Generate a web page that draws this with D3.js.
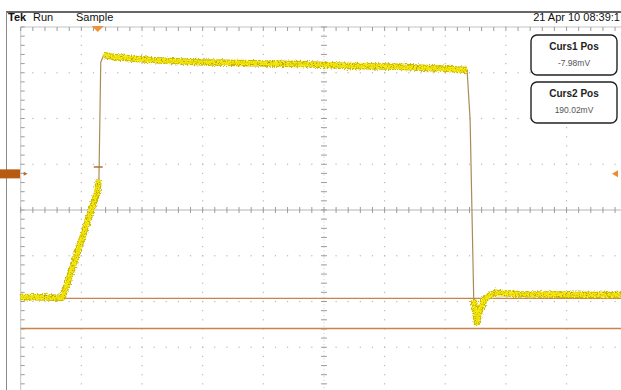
<!DOCTYPE html>
<html>
<head>
<meta charset="utf-8">
<script src="https://cdn.jsdelivr.net/npm/d3@7"></script>
<style>
  html, body { margin: 0; padding: 0; background: #fff; }
  svg { display: block; font-family: "Liberation Sans", Arial, sans-serif; }
</style>
</head>
<body>
<svg id="scope" width="621" height="390"></svg>
<script>
// Screen layout of the scope: 10 horizontal x 8 vertical divisions.
const hDivs = 10;
const vDivs = 8;

// Channel 1 trace, time and level both in screen divisions.
const traceTime = [0, 0.68, 0.71, 1.26, 1.29, 1.32, 1.37, 1.56, 2.13, 2.96, 3.78, 4.61, 5.43, 6.25, 7.08, 7.36,
                   7.41, 7.47, 7.52, 7.57, 7.66, 7.82, 8.23, 9.06, 10];
const traceLevel = [-1.90, -1.92, -1.84, 0.39, 0.66, 3.23, 3.39, 3.34, 3.28, 3.23, 3.21, 3.19, 3.15, 3.13, 3.08, 3.06,
                    1.97, -1.97, -2.45, -2.19, -1.92, -1.81, -1.84, -1.85, -1.86];

// Cursor readouts (mV); channel shown inverted at 300 mV/div.
const cursorNames = ["Curs1 Pos", "Curs2 Pos"];
const cursorValues = [-7.98, 190.02];
const mVPerDiv = 300;

// Markers: ground level, trigger time, trigger level (divisions).
const groundLevel = 0.79;
const triggerTime = 1.27;
const triggerLevel = 0.94;

// Header texts.
const headerLeft = ["Tek", "Run", "Sample"];
const headerDate = "21 Apr 10 08:39:1";

const svg = d3.select("#scope");
const gLeft = 20.7, gTop = 27, divW = 60.65, divH = 45.75;
const x = d3.scaleLinear().domain([0, hDivs]).range([gLeft, gLeft + hDivs * divW]);
const y = d3.scaleLinear().domain([-vDivs / 2, vDivs / 2]).range([gTop + vDivs * divH, gTop]);
const cursorScale = d3.scaleLinear().domain([0, mVPerDiv]).range([-1.957, -2.957]);

const defs = svg.append("defs");
function roughFilter(id, freq, seed, scale) {
  const f = defs.append("filter").attr("id", id)
    .attr("x", "-5%").attr("y", "-30%").attr("width", "110%").attr("height", "160%");
  f.append("feTurbulence").attr("type", "fractalNoise").attr("baseFrequency", freq)
    .attr("numOctaves", 2).attr("seed", seed).attr("result", "noise");
  f.append("feDisplacementMap").attr("in", "SourceGraphic").attr("in2", "noise")
    .attr("scale", scale).attr("xChannelSelector", "R").attr("yChannelSelector", "G");
}
roughFilter("rough", "0.9", 3, 4);
roughFilter("rough2", "0.7", 9, 5);
roughFilter("rough3", "1.1", 21, 6);

// Screen frame
svg.append("line").attr("x1", 6).attr("x2", 621).attr("y1", 12).attr("y2", 12)
  .attr("stroke", "#333").attr("stroke-width", 1.4);
svg.append("line").attr("x1", 6.5).attr("x2", 6.5).attr("y1", 12).attr("y2", 390)
  .attr("stroke", "#8a8a8a").attr("stroke-width", 1);

// Header
const hx = [8, 33, 76];
svg.selectAll("text.hdr").data(headerLeft).join("text").attr("class", "hdr")
  .attr("x", (d, i) => hx[i]).attr("y", 21)
  .attr("font-size", 11).attr("font-weight", (d, i) => i === 0 ? 700 : 400)
  .attr("fill", "#111").text(d => d);
svg.append("text").attr("x", 620).attr("y", 21).attr("text-anchor", "end")
  .attr("font-size", 11).attr("fill", "#111").text(headerDate);

// Graticule
const g = svg.append("g");
const minor = d3.range(0, hDivs * 5 + 1).map(i => i / 5);
const minorV = d3.range(0, vDivs * 5 + 1).map(i => i / 5 - vDivs / 2);
// dotted division lines
for (let i = 1; i < hDivs; i++) {
  if (i === hDivs / 2) continue;
  g.selectAll(null).data(minorV).join("rect")
    .attr("x", x(i) - 0.6).attr("y", d => y(d) - 0.6).attr("width", 1.2).attr("height", 1.2)
    .attr("fill", "#b8b8b8");
}
for (let j = -vDivs / 2 + 1; j < vDivs / 2; j++) {
  if (j === 0) continue;
  g.selectAll(null).data(minor).join("rect")
    .attr("x", d => x(d) - 0.6).attr("y", y(j) - 0.6).attr("width", 1.2).attr("height", 1.2)
    .attr("fill", "#b8b8b8");
}
// edges
g.append("line").attr("x1", x(0)).attr("x2", x(hDivs)).attr("y1", y(4)).attr("y2", y(4))
  .attr("stroke", "#c4c4c4").attr("stroke-width", 1);
g.append("line").attr("x1", x(0)).attr("x2", x(0)).attr("y1", y(4)).attr("y2", y(-4))
  .attr("stroke", "#c4c4c4").attr("stroke-width", 1);
g.selectAll(null).data(minor).join("line")
  .attr("x1", d => x(d)).attr("x2", d => x(d)).attr("y1", y(4)).attr("y2", y(4) + 4)
  .attr("stroke", "#9c9c9c").attr("stroke-width", 1);
g.selectAll(null).data(minorV).join("line")
  .attr("x1", x(0)).attr("x2", x(0) + 4).attr("y1", d => y(d)).attr("y2", d => y(d))
  .attr("stroke", "#9c9c9c").attr("stroke-width", 1);
// centre axes
g.append("line").attr("x1", x(0)).attr("x2", x(hDivs)).attr("y1", y(0)).attr("y2", y(0))
  .attr("stroke", "#b4b4b4").attr("stroke-width", 1);
g.append("line").attr("x1", x(5)).attr("x2", x(5)).attr("y1", y(4)).attr("y2", y(-4))
  .attr("stroke", "#d0d0d0").attr("stroke-width", 1).attr("stroke-dasharray", "1.2,2.4");
g.selectAll(null).data(minor).join("line")
  .attr("x1", d => x(d)).attr("x2", d => x(d)).attr("y1", y(0) - 3).attr("y2", y(0) + 3)
  .attr("stroke", "#9c9c9c").attr("stroke-width", 1);
g.selectAll(null).data(minorV).join("line")
  .attr("x1", x(5) - 3).attr("x2", x(5) + 3).attr("y1", d => y(d)).attr("y2", d => y(d))
  .attr("stroke", "#9c9c9c").attr("stroke-width", 1);

// Cursors
svg.selectAll("line.cursor").data(cursorValues).join("line").attr("class", "cursor")
  .attr("x1", x(0)).attr("x2", 621)
  .attr("y1", d => y(cursorScale(d))).attr("y2", d => y(cursorScale(d)))
  .attr("stroke", "#c8844a").attr("stroke-width", 1.3);

// Trace
const pts = traceTime.map((t, i) => [t, traceLevel[i]]);
const line = d3.line().x(d => x(d[0])).y(d => y(d[1]));
const slow = [pts.filter(d => d[0] <= 1.29), pts.filter(d => d[0] >= 1.37 && d[0] <= 7.36),
              pts.filter(d => d[0] >= 7.47)];
const tr = svg.append("g");
tr.append("path").attr("d", line(pts)).attr("fill", "none")
  .attr("stroke", "#a88c58").attr("stroke-width", 1.2);
slow.forEach(seg => {
  tr.append("path").attr("d", line(seg)).attr("fill", "none")
    .attr("stroke", "#cdb800").attr("stroke-width", 6.5).attr("stroke-linejoin", "round")
    .attr("filter", "url(#rough2)");
  tr.append("path").attr("d", line(seg)).attr("fill", "none")
    .attr("stroke", "#f7ec12").attr("stroke-width", 4.2).attr("stroke-linejoin", "round")
    .attr("filter", "url(#rough)");
  tr.append("path").attr("d", line(seg)).attr("fill", "none")
    .attr("stroke", "#8e7e1c").attr("stroke-width", 1).attr("stroke-opacity", 0.75)
    .attr("filter", "url(#rough3)");
  tr.append("path").attr("d", line(seg)).attr("fill", "none")
    .attr("stroke", "#f2e400").attr("stroke-width", 1.6).attr("stroke-opacity", 0.9)
    .attr("filter", "url(#rough)");
});

// Trigger level tick on the trace
svg.append("line").attr("x1", x(triggerTime) - 4).attr("x2", x(triggerTime) + 5)
  .attr("y1", y(triggerLevel)).attr("y2", y(triggerLevel))
  .attr("stroke", "#b07030").attr("stroke-width", 1.5);

// Trigger position marker (top)
svg.append("path")
  .attr("d", `M${x(triggerTime) - 6},${gTop - 1} L${x(triggerTime) + 6},${gTop - 1} L${x(triggerTime)},${gTop + 5} Z`)
  .attr("fill", "#f0923a");

// Ground marker (left) and trigger level marker (right)
svg.append("rect").attr("x", 0).attr("y", y(groundLevel) - 4.5).attr("width", 20).attr("height", 9)
  .attr("fill", "#b85a12");
svg.append("path")
  .attr("d", `M${x(0) + 3},${y(groundLevel) - 2} L${x(0) + 7},${y(groundLevel)} L${x(0) + 3},${y(groundLevel) + 2} Z`)
  .attr("fill", "#b86a2a");
svg.append("path")
  .attr("d", `M612,${y(groundLevel)} L618,${y(groundLevel) - 3.5} L618,${y(groundLevel) + 3.5} Z`)
  .attr("fill", "#f08a30");

// Cursor readout boxes
const boxes = svg.selectAll("g.box").data(cursorValues).join("g").attr("class", "box")
  .attr("transform", (d, i) => `translate(531, ${i === 0 ? 35 : 82})`);
boxes.append("rect").attr("width", 86).attr("height", (d, i) => i === 0 ? 40 : 41)
  .attr("rx", 6).attr("ry", 6).attr("fill", "#fff").attr("stroke", "#222").attr("stroke-width", 1.4);
boxes.append("text").attr("x", 43).attr("y", 15).attr("text-anchor", "middle")
  .attr("font-size", 10).attr("font-weight", 700).attr("fill", "#222")
  .text((d, i) => cursorNames[i]);
boxes.append("text").attr("x", 43).attr("y", 31).attr("text-anchor", "middle")
  .attr("font-size", 8.5).attr("fill", "#555")
  .text(d => d.toFixed(2) + "mV");
</script>
</body>
</html>
